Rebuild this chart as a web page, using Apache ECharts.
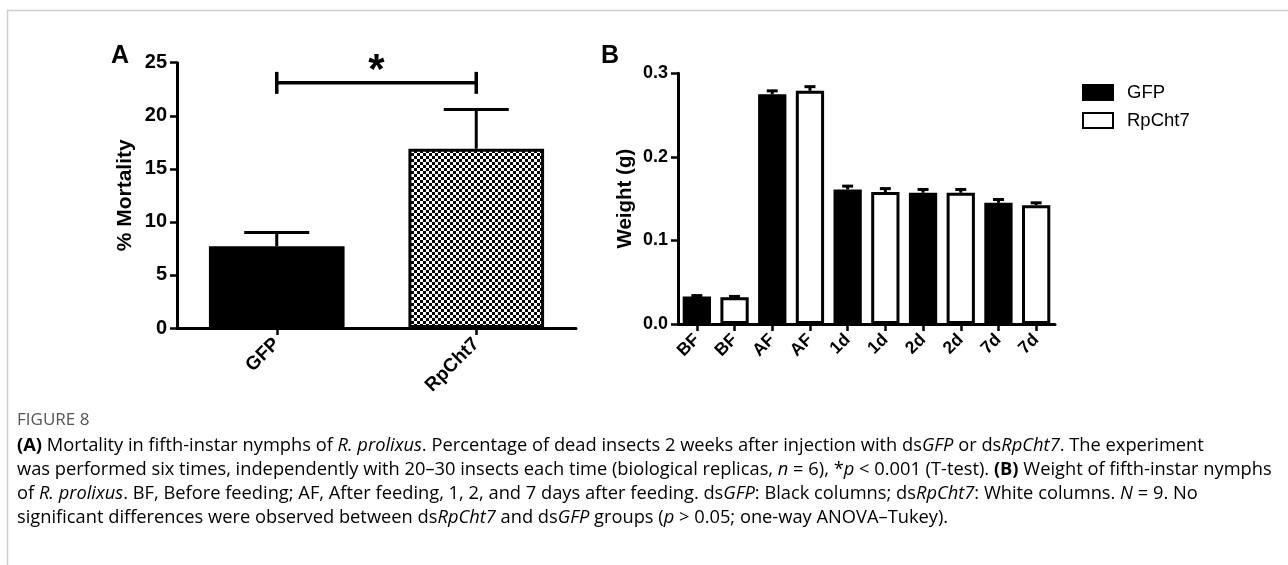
<!DOCTYPE html>
<html>
<head>
<meta charset="utf-8">
<script src="https://cdn.jsdelivr.net/npm/echarts@6/dist/echarts.min.js"></script>
<style>
html,body{margin:0;padding:0;background:#fff;}
#chart{width:1288px;height:565px;}
</style>
</head>
<body>
<div id="chart"></div>
<script>
// ---- Panel A data ----
const catA = ['GFP', 'RpCht7'];
const mortality = [7.7, 16.9];
const mortalityErr = [1.3, 3.7];
const sigLevel = 23.1;
const ticksA = [0, 5, 10, 15, 20, 25];

// ---- Panel B data ----
const catB = ['BF', 'AF', '1d', '2d', '7d'];
const weightGFP = [0.033, 0.275, 0.161, 0.157, 0.145];
const weightRp = [0.032, 0.279, 0.158, 0.157, 0.142];
const errGFP = [0.001, 0.004, 0.004, 0.004, 0.004];
const errRp = [0.001, 0.005, 0.004, 0.004, 0.003];
const ticksB = [0.0, 0.1, 0.2, 0.3];
const seriesNames = ['GFP', 'RpCht7'];

// build B axis and series arrays
const xB = [];
const gfpData = [], rpData = [], errBData = [];
catB.forEach((c, i) => {
  xB.push(c, c);
  gfpData.push(weightGFP[i], '-');
  rpData.push('-', weightRp[i]);
  errBData.push([2 * i, weightGFP[i], errGFP[i]]);
  errBData.push([2 * i + 1, weightRp[i], errRp[i]]);
});

// checker pattern
const pc = document.createElement('canvas');
pc.width = 6; pc.height = 6;
const pctx = pc.getContext('2d');
pctx.fillStyle = '#fff'; pctx.fillRect(0, 0, 6, 6);
pctx.fillStyle = '#000'; pctx.fillRect(0, 0, 3, 3); pctx.fillRect(3, 3, 3, 3);

const BOLD = 'Liberation Sans';
const capFont = 'Open Sans';
const capColor = '#555';
const capSize = 18.3;

function errRender(capW) {
  return function (params, api) {
    const x = api.value(0), v = api.value(1), e = api.value(2);
    const p0 = api.coord([x, v]);
    const p1 = api.coord([x, v + e]);
    return {
      type: 'group',
      children: [
        { type: 'line', shape: { x1: p0[0], y1: p0[1], x2: p1[0], y2: p1[1] }, style: { stroke: '#000', lineWidth: 3 } },
        { type: 'line', shape: { x1: p1[0] - capW / 2, y1: p1[1], x2: p1[0] + capW / 2, y2: p1[1] }, style: { stroke: '#000', lineWidth: 3 } }
      ]
    };
  };
}

const chart = echarts.init(document.getElementById('chart'), null, { renderer: 'canvas' });

const axisLine = { show: true, lineStyle: { color: '#000', width: 3 } };
const axisTick = { show: true, length: 7, lineStyle: { color: '#000', width: 2.5 } };

const capRich = {
  n: { fontFamily: capFont, fontSize: capSize, color: capColor },
  i: { fontFamily: capFont, fontSize: capSize, color: capColor, fontStyle: 'italic' },
  b: { fontFamily: capFont, fontSize: capSize, color: capColor, fontWeight: 'bold' }
};
const capLines = [
  '{b|(A)}{n| Mortality in fifth-instar nymphs of }{i|R. prolixus}{n|. Percentage of dead insects 2 weeks after injection with ds}{i|GFP}{n| or ds}{i|RpCht7}{n|. The experiment}',
  '{n|was performed six times, independently with 20–30 insects each time (biological replicas, }{i|n}{n| = 6), *}{i|p}{n| < 0.001 (T-test). }{b|(B)}{n| Weight of fifth-instar nymphs}',
  '{n|of }{i|R. prolixus}{n|. BF, Before feeding; AF, After feeding, 1, 2, and 7 days after feeding. ds}{i|GFP}{n|: Black columns; ds}{i|RpCht7}{n|: White columns. }{i|N}{n| = 9. No}',
  '{n|significant differences were observed between ds}{i|RpCht7}{n| and ds}{i|GFP}{n| groups (}{i|p}{n| > 0.05; one-way ANOVA–Tukey).}'
];
const capY = [446, 470, 494, 518];

const graphics = [
  { type: 'rect', shape: { x: 7.5, y: 10.5, width: 1400, height: 700 }, style: { fill: 'none', stroke: '#cfcfcf', lineWidth: 1.5 }, silent: true },
  { type: 'text', x: 111, y: 56, style: { text: 'A', fontFamily: 'Liberation Sans', fontWeight: 'bold', fontSize: 25, fill: '#000', verticalAlign: 'middle' } },
  { type: 'text', x: 601, y: 56, style: { text: 'B', fontFamily: 'Liberation Sans', fontWeight: 'bold', fontSize: 25, fill: '#000', verticalAlign: 'middle' } },
  { type: 'text', x: 17, y: 420, style: { text: 'FIGURE 8', fontFamily: capFont, fontSize: 17, fill: capColor, verticalAlign: 'middle' } }
];
capLines.forEach((t, i) => {
  graphics.push({ type: 'text', x: 17, y: capY[i], style: { text: t, rich: capRich, verticalAlign: 'middle' } });
});

const option = {
  animation: false,
  backgroundColor: '#fff',
  graphic: graphics,
  legend: {
    data: seriesNames,
    orient: 'vertical',
    left: 1077, top: 78,
    itemWidth: 30, itemHeight: 15, itemGap: 9,
    icon: 'rect',
    textStyle: { fontFamily: 'Liberation Sans', fontSize: 18.5, color: '#000', padding: [0, 0, 0, 9] }
  },
  grid: [
    { left: 177, top: 62.7, width: 399, height: 265.3, containLabel: false },
    { left: 678, top: 73.3, width: 377, height: 250.7, containLabel: false }
  ],
  xAxis: [
    {
      gridIndex: 0, type: 'category', data: catA,
      axisLine: axisLine, axisTick: Object.assign({ alignWithLabel: true }, axisTick),
      axisLabel: { rotate: 45, margin: 13, fontFamily: BOLD, fontWeight: 'bold', fontSize: 19, color: '#000', interval: 0 }
    },
    {
      gridIndex: 1, type: 'category', data: xB,
      axisLine: axisLine, axisTick: Object.assign({ alignWithLabel: true, interval: 0 }, axisTick),
      axisLabel: { rotate: 45, margin: 13, fontFamily: BOLD, fontWeight: 'bold', fontSize: 17.5, color: '#000', interval: 0 }
    }
  ],
  yAxis: [
    {
      gridIndex: 0, type: 'value', min: ticksA[0], max: ticksA[ticksA.length - 1], interval: ticksA[1] - ticksA[0],
      name: '% Mortality', nameLocation: 'middle', nameGap: 41,
      nameTextStyle: { fontFamily: BOLD, fontWeight: 'bold', fontSize: 21, color: '#000' },
      axisLine: axisLine, axisTick: axisTick, splitLine: { show: false },
      axisLabel: { margin: 10, fontFamily: BOLD, fontWeight: 'bold', fontSize: 20, color: '#000' }
    },
    {
      gridIndex: 1, type: 'value', min: ticksB[0], max: ticksB[ticksB.length - 1], interval: ticksB[1] - ticksB[0],
      name: 'Weight (g)', nameLocation: 'middle', nameGap: 42,
      nameTextStyle: { fontFamily: BOLD, fontWeight: 'bold', fontSize: 20.5, color: '#000' },
      axisLine: axisLine, axisTick: axisTick, splitLine: { show: false },
      axisLabel: { margin: 10, fontFamily: BOLD, fontWeight: 'bold', fontSize: 18, color: '#000', formatter: v => v.toFixed(1) }
    }
  ],
  series: [
    {
      type: 'bar', xAxisIndex: 0, yAxisIndex: 0, barWidth: '68%',
      data: [
        { value: mortality[0], itemStyle: { color: '#000', borderColor: '#000', borderWidth: 3 } },
        { value: mortality[1], itemStyle: { color: { image: pc, repeat: 'repeat' }, borderColor: '#000', borderWidth: 3 } }
      ],
      z: 2
    },
    {
      type: 'custom', xAxisIndex: 0, yAxisIndex: 0, z: 3,
      renderItem: errRender(65),
      data: mortality.map((v, i) => [i, v, mortalityErr[i]])
    },
    {
      type: 'custom', xAxisIndex: 0, yAxisIndex: 0, z: 3,
      renderItem: function (params, api) {
        const a = api.coord([api.value(0), api.value(2)]);
        const b = api.coord([api.value(1), api.value(2)]);
        return {
          type: 'group',
          children: [
            { type: 'polyline', shape: { points: [[a[0], a[1] - 11], [a[0], a[1] + 11]] }, style: { stroke: '#000', lineWidth: 3.5, fill: null } },
            { type: 'polyline', shape: { points: [[b[0], b[1] - 11], [b[0], b[1] + 11]] }, style: { stroke: '#000', lineWidth: 3.5, fill: null } },
            { type: 'line', shape: { x1: a[0], y1: a[1], x2: b[0], y2: b[1] }, style: { stroke: '#000', lineWidth: 3.5 } },
            { type: 'text', x: (a[0] + b[0]) / 2, y: a[1] + 10, style: { text: '*', fontFamily: 'Liberation Sans', fontWeight: 'bold', fontSize: 42, fill: '#000', align: 'center', verticalAlign: 'bottom' } }
          ]
        };
      },
      data: [[0, 1, sigLevel]]
    },
    {
      name: seriesNames[0], type: 'bar', xAxisIndex: 1, yAxisIndex: 1, barWidth: '75%', barGap: '-100%',
      itemStyle: { color: '#000', borderColor: '#000', borderWidth: 3 },
      data: gfpData, z: 2
    },
    {
      name: seriesNames[1], type: 'bar', xAxisIndex: 1, yAxisIndex: 1, barWidth: '75%', barGap: '-100%',
      itemStyle: { color: '#fff', borderColor: '#000', borderWidth: 3 },
      data: rpData, z: 2
    },
    {
      type: 'custom', xAxisIndex: 1, yAxisIndex: 1, z: 3,
      renderItem: errRender(11),
      data: errBData
    }
  ]
};
chart.setOption(option);
</script>
</body>
</html>
